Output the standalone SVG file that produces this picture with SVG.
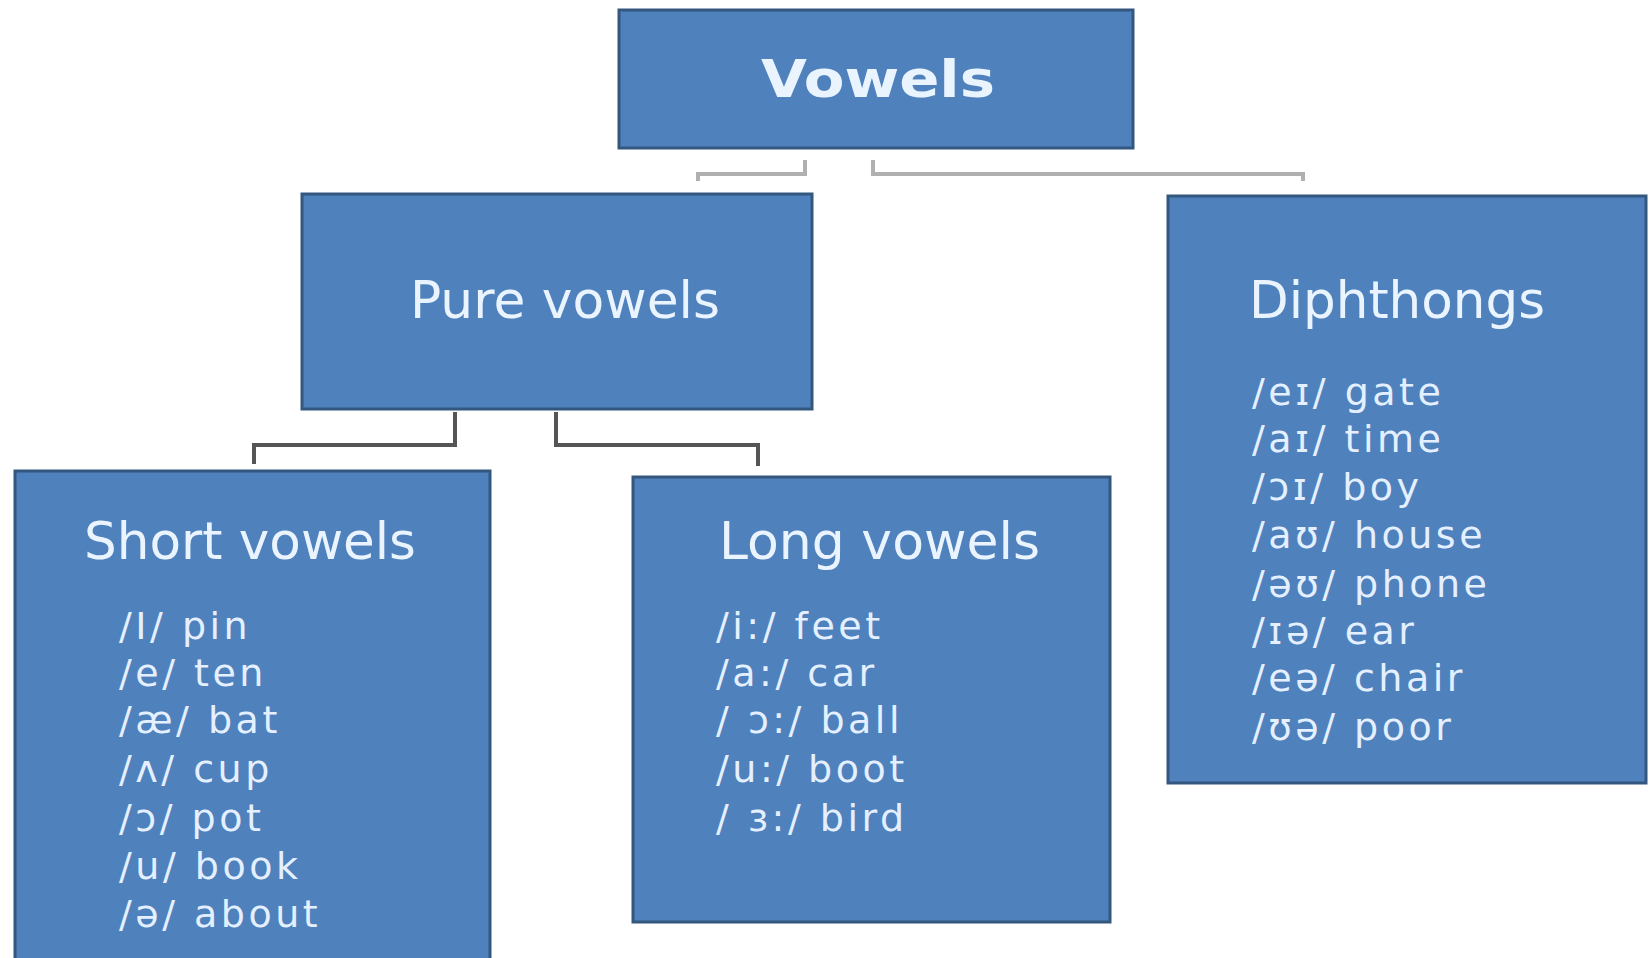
<svg xmlns="http://www.w3.org/2000/svg" width="1650" height="958" viewBox="0 0 1650 958">
<style>
.box{fill:#4f81bd;stroke:#34577f;stroke-width:3}
.h{fill:#eaf4ff;font-family:"DejaVu Sans",Verdana,sans-serif;font-size:52px}
.t{fill:#e4f0ff;font-family:"DejaVu Sans",Verdana,sans-serif;font-size:38px;letter-spacing:3.5px}
.c1{fill:none;stroke:#b0b0b0;stroke-width:4}
.c2{fill:none;stroke:#555;stroke-width:4}
</style>
<rect width="1650" height="958" fill="#ffffff"/>
<g id="connectors">
<path class="c1" d="M698,181 V174 H805 V160"/>
<path class="c1" d="M873,160 V174 H1303 V181"/>
<path class="c2" d="M455,412 V445 H254 V464"/>
<path class="c2" d="M556,412 V445 H758 V466"/>
</g>
<g id="vowels">
<rect class="box" x="619" y="10" width="514" height="138"/>
<text class="h" x="761" y="97" font-weight="bold" font-size="58" textLength="234" lengthAdjust="spacingAndGlyphs">Vowels</text>
</g>
<g id="pure">
<rect class="box" x="302" y="194" width="510" height="215"/>
<text class="h" x="410" y="318" textLength="310" lengthAdjust="spacingAndGlyphs">Pure vowels</text>
</g>
<g id="diphthongs">
<rect class="box" x="1168" y="196" width="478" height="587"/>
<text class="h" x="1249" y="318" textLength="296" lengthAdjust="spacingAndGlyphs">Diphthongs</text>
<text class="t" x="1252" y="405">/eɪ/ gate</text>
<text class="t" x="1252" y="452">/aɪ/ time</text>
<text class="t" x="1252" y="500">/ɔɪ/ boy</text>
<text class="t" x="1252" y="548">/aʊ/ house</text>
<text class="t" x="1252" y="597">/əʊ/ phone</text>
<text class="t" x="1252" y="644">/ɪə/ ear</text>
<text class="t" x="1252" y="691">/eə/ chair</text>
<text class="t" x="1252" y="740">/ʊə/ poor</text>
</g>
<g id="short">
<rect class="box" x="15" y="471" width="475" height="495"/>
<text class="h" x="84" y="559" textLength="332" lengthAdjust="spacingAndGlyphs">Short vowels</text>
<text class="t" x="119" y="639">/I/ pin</text>
<text class="t" x="119" y="686">/e/ ten</text>
<text class="t" x="119" y="733">/æ/ bat</text>
<text class="t" x="119" y="782">/ʌ/ cup</text>
<text class="t" x="119" y="831">/ɔ/ pot</text>
<text class="t" x="119" y="879">/u/ book</text>
<text class="t" x="119" y="927">/ə/ about</text>
</g>
<g id="long">
<rect class="box" x="633" y="477" width="477" height="445"/>
<text class="h" x="719" y="559" textLength="321" lengthAdjust="spacingAndGlyphs">Long vowels</text>
<text class="t" x="716" y="639">/i:/ feet</text>
<text class="t" x="716" y="686">/a:/ car</text>
<text class="t" x="716" y="733">/ ɔ:/ ball</text>
<text class="t" x="716" y="782">/u:/ boot</text>
<text class="t" x="716" y="831">/ ɜ:/ bird</text>
</g>
</svg>
